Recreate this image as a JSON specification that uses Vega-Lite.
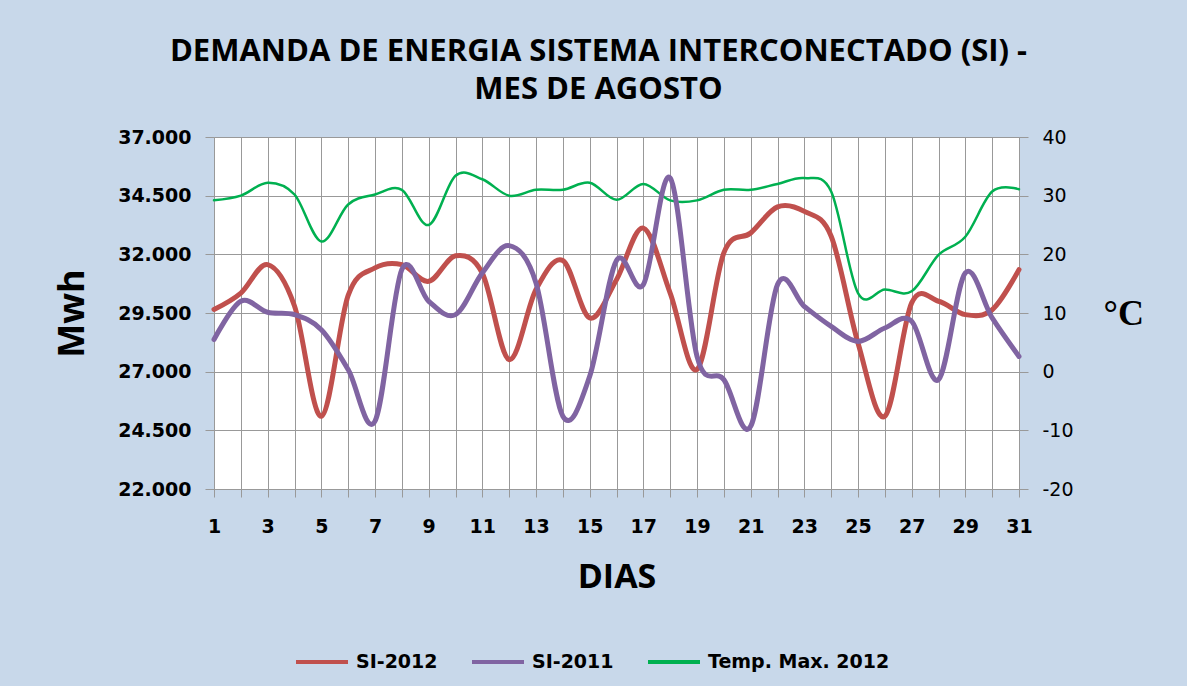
{
  "$schema": "https://vega.github.io/schema/vega-lite/v6.json",
  "width": 805,
  "height": 352,
  "autosize": "none",
  "padding": {"left": 214, "top": 137, "right": 168, "bottom": 197},
  "background": "#c8d8ea",
  "title": {
    "text": ["DEMANDA DE ENERGIA SISTEMA INTERCONECTADO (SI) -", "MES DE AGOSTO"],
    "font": "Open Sans",
    "fontSize": 31,
    "fontWeight": "bold",
    "color": "black",
    "lineHeight": 38,
    "anchor": "middle",
    "dx": -18,
    "offset": 22
  },
  "data": {
    "values": [
      {"day":1,"series":"SI-2012","value":29650},{"day":2,"series":"SI-2012","value":30350},{"day":3,"series":"SI-2012","value":31560},{"day":4,"series":"SI-2012","value":29800},{"day":5,"series":"SI-2012","value":25100},{"day":6,"series":"SI-2012","value":30250},{"day":7,"series":"SI-2012","value":31420},{"day":8,"series":"SI-2012","value":31560},{"day":9,"series":"SI-2012","value":30850},{"day":10,"series":"SI-2012","value":31940},{"day":11,"series":"SI-2012","value":31200},{"day":12,"series":"SI-2012","value":27510},{"day":13,"series":"SI-2012","value":30500},{"day":14,"series":"SI-2012","value":31740},{"day":15,"series":"SI-2012","value":29290},{"day":16,"series":"SI-2012","value":30920},{"day":17,"series":"SI-2012","value":33120},{"day":18,"series":"SI-2012","value":30350},{"day":19,"series":"SI-2012","value":27090},{"day":20,"series":"SI-2012","value":32060},{"day":21,"series":"SI-2012","value":32910},{"day":22,"series":"SI-2012","value":34020},{"day":23,"series":"SI-2012","value":33830},{"day":24,"series":"SI-2012","value":32770},{"day":25,"series":"SI-2012","value":28220},{"day":26,"series":"SI-2012","value":25100},{"day":27,"series":"SI-2012","value":29930},{"day":28,"series":"SI-2012","value":30000},{"day":29,"series":"SI-2012","value":29430},{"day":30,"series":"SI-2012","value":29640},{"day":31,"series":"SI-2012","value":31350},
      {"day":1,"series":"SI-2011","value":28370},{"day":2,"series":"SI-2011","value":30000},{"day":3,"series":"SI-2011","value":29530},{"day":4,"series":"SI-2011","value":29430},{"day":5,"series":"SI-2011","value":28790},{"day":6,"series":"SI-2011","value":27090},{"day":7,"series":"SI-2011","value":24890},{"day":8,"series":"SI-2011","value":31350},{"day":9,"series":"SI-2011","value":30000},{"day":10,"series":"SI-2011","value":29430},{"day":11,"series":"SI-2011","value":31210},{"day":12,"series":"SI-2011","value":32370},{"day":13,"series":"SI-2011","value":30780},{"day":14,"series":"SI-2011","value":25100},{"day":15,"series":"SI-2011","value":26800},{"day":16,"series":"SI-2011","value":31740},{"day":17,"series":"SI-2011","value":30710},{"day":18,"series":"SI-2011","value":35250},{"day":19,"series":"SI-2011","value":27650},{"day":20,"series":"SI-2011","value":26660},{"day":21,"series":"SI-2011","value":24670},{"day":22,"series":"SI-2011","value":30710},{"day":23,"series":"SI-2011","value":29780},{"day":24,"series":"SI-2011","value":28930},{"day":25,"series":"SI-2011","value":28290},{"day":26,"series":"SI-2011","value":28860},{"day":27,"series":"SI-2011","value":29150},{"day":28,"series":"SI-2011","value":26660},{"day":29,"series":"SI-2011","value":31210},{"day":30,"series":"SI-2011","value":29290},{"day":31,"series":"SI-2011","value":27650},
      {"day":1,"series":"Temp. Max. 2012","value":29.2},{"day":2,"series":"Temp. Max. 2012","value":30},{"day":3,"series":"Temp. Max. 2012","value":32.2},{"day":4,"series":"Temp. Max. 2012","value":30.2},{"day":5,"series":"Temp. Max. 2012","value":22.2},{"day":6,"series":"Temp. Max. 2012","value":28.5},{"day":7,"series":"Temp. Max. 2012","value":30.2},{"day":8,"series":"Temp. Max. 2012","value":31},{"day":9,"series":"Temp. Max. 2012","value":25},{"day":10,"series":"Temp. Max. 2012","value":33.4},{"day":11,"series":"Temp. Max. 2012","value":32.8},{"day":12,"series":"Temp. Max. 2012","value":30},{"day":13,"series":"Temp. Max. 2012","value":31},{"day":14,"series":"Temp. Max. 2012","value":31},{"day":15,"series":"Temp. Max. 2012","value":32.2},{"day":16,"series":"Temp. Max. 2012","value":29.3},{"day":17,"series":"Temp. Max. 2012","value":32},{"day":18,"series":"Temp. Max. 2012","value":29.2},{"day":19,"series":"Temp. Max. 2012","value":29.2},{"day":20,"series":"Temp. Max. 2012","value":31},{"day":21,"series":"Temp. Max. 2012","value":31},{"day":22,"series":"Temp. Max. 2012","value":32},{"day":23,"series":"Temp. Max. 2012","value":33},{"day":24,"series":"Temp. Max. 2012","value":30.7},{"day":25,"series":"Temp. Max. 2012","value":13.4},{"day":26,"series":"Temp. Max. 2012","value":14},{"day":27,"series":"Temp. Max. 2012","value":13.7},{"day":28,"series":"Temp. Max. 2012","value":19.9},{"day":29,"series":"Temp. Max. 2012","value":23},{"day":30,"series":"Temp. Max. 2012","value":30.7},{"day":31,"series":"Temp. Max. 2012","value":31.1}
    ]
  },
  "encoding": {
    "x": {
      "field": "day",
      "type": "quantitative",
      "scale": {"domain": [1, 31], "nice": false, "zero": false},
      "axis": {
        "title": "DIAS",
        "values": [1,2,3,4,5,6,7,8,9,10,11,12,13,14,15,16,17,18,19,20,21,22,23,24,25,26,27,28,29,30,31],
        "labelExpr": "datum.value % 2 == 1 ? datum.label : ''",
        "grid": true,
        "gridColor": "#999999",
        "gridOpacity": 1,
        "domainColor": "#999999",
        "tickColor": "#999999",
        "tickSize": 8,
        "labelPadding": 20,
        "labelFont": "DejaVu Sans",
        "labelFontWeight": "bold",
        "labelFontSize": 19,
        "labelColor": "black",
        "labelFlush": false,
        "labelOverlap": false,
        "titleFont": "Open Sans",
        "titleFontWeight": "bold",
        "titleFontSize": 34,
        "titleColor": "black",
        "titlePadding": 24
      }
    }
  },
  "layer": [
    {
      "transform": [{"filter": "datum.series == 'Temp. Max. 2012'"}],
      "mark": {"type": "line", "interpolate": "cardinal", "strokeWidth": 2.5, "strokeCap": "round"},
      "encoding": {
        "y": {
          "field": "value",
          "type": "quantitative",
          "scale": {"domain": [-20, 40], "nice": false, "zero": false},
          "axis": {
            "orient": "right",
            "title": "°C",
            "values": [-20, -10, 0, 10, 20, 30, 40],
            "labelExpr": "replace(datum.label, '\u2212', '-')",
            "grid": false,
            "domainColor": "#999999",
            "tickColor": "#999999",
            "tickSize": 9,
            "labelPadding": 14,
            "labelFont": "DejaVu Sans",
            "labelFontSize": 19,
            "labelColor": "black",
            "labelFlush": false,
            "titleAngle": 0,
            "titleFont": "Liberation Serif",
            "titleFontWeight": "bold",
            "titleFontSize": 36,
            "titleColor": "black",
            "titleAlign": "left",
            "titleBaseline": "middle",
            "titleX": 84,
            "titleY": 176
          }
        },
        "color": {
          "field": "series",
          "type": "nominal",
          "scale": {"domain": ["SI-2012", "SI-2011", "Temp. Max. 2012"], "range": ["#c0504d", "#8064a2", "#00b050"]},
          "legend": {
            "title": null,
            "orient": "none",
            "direction": "horizontal",
            "legendX": 80,
            "legendY": 497,
            "symbolType": "stroke",
            "symbolSize": 2704,
            "symbolStrokeWidth": 4,
            "labelFont": "DejaVu Sans",
            "labelFontWeight": "bold",
            "labelFontSize": 19,
            "labelColor": "black",
            "labelLimit": 400,
            "labelOffset": 6,
            "columnPadding": 26,
            "padding": 0
          }
        }
      }
    },
    {
      "layer": [
        {
          "transform": [{"filter": "datum.series == 'SI-2012'"}],
          "mark": {"type": "line", "interpolate": "cardinal", "strokeWidth": 5, "strokeCap": "round"}
        },
        {
          "transform": [{"filter": "datum.series == 'SI-2011'"}],
          "mark": {"type": "line", "interpolate": "cardinal", "strokeWidth": 5, "strokeCap": "round"}
        }
      ],
      "encoding": {
        "y": {
          "field": "value",
          "type": "quantitative",
          "scale": {"domain": [22000, 37000], "nice": false, "zero": false},
          "axis": {
            "orient": "left",
            "title": "Mwh",
            "values": [22000, 24500, 27000, 29500, 32000, 34500, 37000],
            "labelExpr": "replace(format(datum.value, ','), ',', '.')",
            "grid": true,
            "gridColor": "#999999",
            "gridOpacity": 1,
            "domainColor": "#999999",
            "tickColor": "#999999",
            "tickSize": 9,
            "labelPadding": 14,
            "labelFont": "DejaVu Sans",
            "labelFontWeight": "bold",
            "labelFontSize": 19,
            "labelColor": "black",
            "labelFlush": false,
            "titleFont": "Open Sans",
            "titleFontWeight": "bold",
            "titleFontSize": 36,
            "titleColor": "black",
            "titlePadding": 26
          }
        },
        "color": {
          "field": "series",
          "type": "nominal",
          "scale": {"domain": ["SI-2012", "SI-2011", "Temp. Max. 2012"], "range": ["#c0504d", "#8064a2", "#00b050"]}
        }
      }
    }
  ],
  "resolve": {"scale": {"y": "independent"}},
  "config": {
    "view": {"fill": "white", "stroke": null}
  }
}
